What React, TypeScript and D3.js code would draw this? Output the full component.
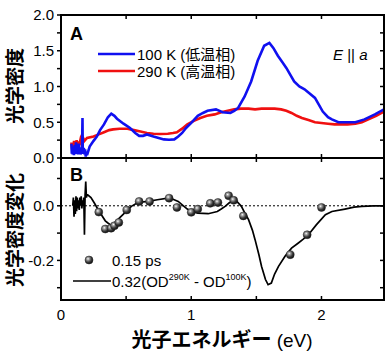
import React from "react";
import * as d3 from "d3";

// 100 K (低温相) の光学密度スペクトル [eV, OD]
const lowTempOD: [number, number][] = [
  [0.08, 0.2], [0.083, 0.06], [0.087, 0.16], [0.09, 0.05], [0.095, 0.13], [0.1, 0.04],
  [0.105, 0.18], [0.11, 0.07], [0.115, 0.22], [0.12, 0.06], [0.125, 0.12], [0.13, 0.05],
  [0.135, 0.2], [0.14, 0.09], [0.145, 0.15], [0.15, 0.05], [0.155, 0.1], [0.16, 0.07],
  [0.163, 0.3], [0.165, 0.56], [0.167, 0.1], [0.17, 0.06], [0.175, 0.14], [0.18, 0.05],
  [0.185, 0.12], [0.19, 0.02], [0.195, 0.09], [0.2, 0.04], [0.22, 0.16], [0.25, 0.24],
  [0.275, 0.3], [0.3, 0.39], [0.33, 0.47], [0.36, 0.57], [0.386, 0.62], [0.41, 0.59],
  [0.43, 0.55], [0.48, 0.48], [0.53, 0.42], [0.57, 0.35], [0.6, 0.31], [0.63, 0.31],
  [0.66, 0.33], [0.71, 0.3], [0.75, 0.28], [0.79, 0.26], [0.83, 0.255], [0.87, 0.26],
  [0.9, 0.3], [0.93, 0.35], [0.96, 0.42], [1.0, 0.49], [1.05, 0.59], [1.09, 0.63],
  [1.125, 0.66], [1.19, 0.68], [1.24, 0.64], [1.3, 0.63], [1.33, 0.66], [1.36, 0.7],
  [1.41, 0.86], [1.46, 1.07], [1.51, 1.36], [1.56, 1.57], [1.6, 1.61], [1.63, 1.54],
  [1.665, 1.43], [1.7, 1.34], [1.73, 1.26], [1.79, 1.07], [1.83, 1.0], [1.87, 0.96],
  [1.95, 0.84], [2.01, 0.65], [2.05, 0.57], [2.08, 0.54], [2.13, 0.5], [2.2, 0.5],
  [2.26, 0.5], [2.33, 0.54], [2.41, 0.61], [2.48, 0.68],
];

// 290 K (高温相)
const highTempOD: [number, number][] = [
  [0.08, 0.22], [0.085, 0.12], [0.09, 0.2], [0.095, 0.1], [0.1, 0.24], [0.105, 0.14],
  [0.11, 0.22], [0.115, 0.12], [0.12, 0.25], [0.125, 0.15], [0.13, 0.23], [0.14, 0.18],
  [0.15, 0.26], [0.16, 0.2], [0.17, 0.28], [0.18, 0.24], [0.2, 0.28], [0.25, 0.3],
  [0.29, 0.33], [0.33, 0.36], [0.37, 0.39], [0.4, 0.4], [0.45, 0.41], [0.51, 0.41],
  [0.56, 0.39], [0.61, 0.37], [0.66, 0.35], [0.71, 0.34], [0.76, 0.335], [0.82, 0.34],
  [0.86, 0.35], [0.89, 0.36], [0.93, 0.41], [0.97, 0.47], [1.02, 0.52], [1.07, 0.56],
  [1.12, 0.59], [1.18, 0.61], [1.23, 0.64], [1.28, 0.66], [1.33, 0.68], [1.38, 0.69],
  [1.44, 0.69], [1.49, 0.68], [1.54, 0.69], [1.59, 0.69], [1.64, 0.69], [1.69, 0.68],
  [1.73, 0.66], [1.77, 0.63], [1.81, 0.59], [1.85, 0.56], [1.9, 0.53], [1.95, 0.5],
  [2.0, 0.49], [2.05, 0.48], [2.1, 0.47], [2.15, 0.47], [2.2, 0.47], [2.26, 0.48],
  [2.31, 0.5], [2.36, 0.54], [2.42, 0.59], [2.48, 0.65],
];

// 0.32(OD290K - OD100K)
const scaledDiff: [number, number][] = [
  [0.09, 0.0], [0.095, 0.03], [0.1, -0.04], [0.105, 0.02], [0.11, -0.03], [0.115, 0.035],
  [0.12, -0.02], [0.125, 0.03], [0.13, -0.01], [0.135, 0.02], [0.14, -0.015], [0.145, 0.03],
  [0.15, 0.0], [0.155, 0.035], [0.16, -0.01], [0.165, 0.02], [0.17, 0.0], [0.175, 0.03],
  [0.18, -0.106], [0.185, 0.04], [0.19, 0.089], [0.195, 0.03], [0.2, 0.04], [0.205, 0.04],
  [0.23, 0.03], [0.256, 0.01], [0.28, -0.01], [0.31, -0.033], [0.34, -0.055], [0.36, -0.063],
  [0.38, -0.07], [0.4, -0.068], [0.436, -0.051], [0.487, -0.027], [0.54, -0.002], [0.59, 0.012],
  [0.667, 0.016], [0.74, 0.022], [0.82, 0.028], [0.86, 0.024], [0.9, 0.016], [0.94, 0.0],
  [0.97, -0.012], [1.01, -0.022], [1.05, -0.027], [1.13, -0.029], [1.2, -0.021], [1.23, -0.012],
  [1.26, -0.002], [1.29, 0.01], [1.31, 0.016], [1.35, 0.016], [1.385, -0.002], [1.41, -0.025],
  [1.44, -0.051], [1.47, -0.09], [1.49, -0.124], [1.52, -0.18], [1.54, -0.222], [1.57, -0.27],
  [1.59, -0.289], [1.615, -0.283], [1.64, -0.25], [1.67, -0.222], [1.72, -0.185], [1.77, -0.155],
  [1.82, -0.137], [1.86, -0.122], [1.9, -0.106], [1.96, -0.07], [2.03, -0.033], [2.08, -0.021],
  [2.18, -0.012], [2.25, -0.005], [2.31, -0.002], [2.4, 0], [2.48, 0],
];

// 0.15 ps のポンププローブ測定点
const pumpProbe015ps: [number, number][] = [
  [0.29, -0.023], [0.34, -0.085], [0.385, -0.082], [0.41, -0.073], [0.444, -0.061],
  [0.505, -0.015], [0.6, 0.016], [0.68, 0.016], [0.83, 0.028], [0.89, -0.006],
  [1.0, -0.024], [1.05, -0.012], [1.146, 0.009], [1.205, 0.012], [1.287, 0.037],
  [1.326, 0.02], [1.4, -0.037], [1.76, -0.179], [1.89, -0.106], [2.0, -0.006],
];

const xTicks = [0, 1, 2];
const topYTicks = [0, 0.5, 1, 1.5, 2];
const botYTicks = [0, -0.2];

const W = 390;
const H = 360;
const L = 61;
const R = 384;
const TOP = 15;
const MID = 158;
const BOT = 300;

const sans = "'Liberation Sans', Arial, sans-serif";
const cjk = "'Noto Sans CJK JP', sans-serif";
const mixed = "'Liberation Sans', 'Noto Sans CJK JP', sans-serif";

export default function App() {
  const x = d3.scaleLinear().domain([0, 2.48]).range([L, R]);
  const yTop = d3.scaleLinear().domain([0, 2]).range([MID, TOP]);
  const yBot = d3.scaleLinear().domain([-0.345, 0.175]).range([BOT, MID]);

  const lineTop = d3.line<[number, number]>().x((d) => x(d[0])).y((d) => yTop(d[1]));
  const lineBot = d3.line<[number, number]>().x((d) => x(d[0])).y((d) => yBot(d[1]));

  const xMinor = d3.range(0, 2.49, 0.5);
  const topMinor = d3.range(0, 2.001, 0.25);
  const botMinor = d3.range(-0.3, 0.11, 0.1);
  const tk = 4;

  return (
    <svg
      width={W}
      height={H}
      style={{ position: "absolute", left: 0, top: 0, background: "#fff" }}
    >
      <defs>
        <radialGradient id="ball" cx="38%" cy="35%" r="65%">
          <stop offset="0%" stopColor="#ffffff" />
          <stop offset="22%" stopColor="#a8a8a8" />
          <stop offset="65%" stopColor="#3a3a3a" />
          <stop offset="100%" stopColor="#111" />
        </radialGradient>
        <clipPath id="clipTop">
          <rect x={L} y={TOP} width={R - L} height={MID - TOP} />
        </clipPath>
        <clipPath id="clipBot">
          <rect x={L} y={MID} width={R - L} height={BOT - MID} />
        </clipPath>
      </defs>

      {/* パネル A */}
      <g clipPath="url(#clipTop)">
        <path d={lineTop(highTempOD) ?? ""} fill="none" stroke="#f01010" strokeWidth={2.6} />
        <path d={lineTop(lowTempOD) ?? ""} fill="none" stroke="#1010f0" strokeWidth={2.6} />
      </g>

      {/* パネル B */}
      <line x1={L} x2={R} y1={yBot(0)} y2={yBot(0)} stroke="#000" strokeWidth={1} strokeDasharray="2,2" />
      <g clipPath="url(#clipBot)">
        <path d={lineBot(scaledDiff) ?? ""} fill="none" stroke="#000" strokeWidth={1.7} />
      </g>
      {pumpProbe015ps.map((d, i) => (
        <circle key={i} cx={x(d[0])} cy={yBot(d[1])} r={4} fill="url(#ball)" stroke="#222" strokeWidth={0.5} />
      ))}

      {/* 枠と目盛り */}
      <g stroke="#000" strokeWidth={1.5} fill="none">
        <rect x={L} y={TOP} width={R - L} height={BOT - TOP} strokeWidth={2} />
        <line x1={L} x2={R} y1={MID} y2={MID} strokeWidth={2} />
        {xMinor.map((v) => (
          <g key={"x" + v}>
            <line x1={x(v)} x2={x(v)} y1={TOP} y2={TOP + tk} />
            <line x1={x(v)} x2={x(v)} y1={MID} y2={MID - tk} />
            <line x1={x(v)} x2={x(v)} y1={MID} y2={MID + tk} />
            <line x1={x(v)} x2={x(v)} y1={BOT} y2={BOT - tk} />
          </g>
        ))}
        {topMinor.map((v) => (
          <g key={"t" + v}>
            <line x1={L - tk} x2={L} y1={yTop(v)} y2={yTop(v)} />
            <line x1={R - tk} x2={R} y1={yTop(v)} y2={yTop(v)} />
          </g>
        ))}
        {botMinor.map((v) => (
          <g key={"b" + v}>
            <line x1={L - tk} x2={L} y1={yBot(v)} y2={yBot(v)} />
            <line x1={R - tk} x2={R} y1={yBot(v)} y2={yBot(v)} />
          </g>
        ))}
      </g>

      {/* 目盛りラベル */}
      <g fontFamily={sans} fontSize={15} fill="#000">
        {topYTicks.map((v) => (
          <text key={v} x={L - 7} y={yTop(v)} dy="0.35em" textAnchor="end">
            {d3.format(".1f")(v)}
          </text>
        ))}
        {botYTicks.map((v) => (
          <text key={v} x={L - 7} y={yBot(v)} dy="0.35em" textAnchor="end">
            {d3.format(".1f")(v).replace("−", "-")}
          </text>
        ))}
        {xTicks.map((v) => (
          <text key={v} x={x(v)} y={BOT + 20} textAnchor="middle">
            {v}
          </text>
        ))}
      </g>

      {/* 軸ラベル */}
      <text
        transform={`translate(22,86) rotate(-90)`}
        textAnchor="middle"
        fontFamily={cjk}
        fontWeight="bold"
        fontSize={19}
      >
        光学密度
      </text>
      <text
        transform={`translate(22,230) rotate(-90)`}
        textAnchor="middle"
        fontFamily={cjk}
        fontWeight="bold"
        fontSize={19}
      >
        光学密度変化
      </text>
      <text x={222} y={347} textAnchor="middle" fontFamily={cjk} fontWeight="bold" fontSize={20}>
        光子エネルギー
        <tspan fontFamily={sans} fontWeight="normal" fontSize={19}> (eV)</tspan>
      </text>

      {/* パネル記号 */}
      <text x={70} y={40} fontFamily={sans} fontWeight="bold" fontSize={18}>A</text>
      <text x={70} y={181} fontFamily={sans} fontWeight="bold" fontSize={18}>B</text>

      {/* 凡例 A */}
      <line x1={98} x2={135} y1={54} y2={54} stroke="#1010f0" strokeWidth={2.6} />
      <line x1={98} x2={135} y1={71} y2={71} stroke="#f01010" strokeWidth={2.6} />
      <text x={137} y={59.5} fontFamily={mixed} fontSize={15}>100 K (低温相)</text>
      <text x={137} y={76.5} fontFamily={mixed} fontSize={15}>290 K (高温相)</text>
      <text x={333} y={59.5} fontFamily={sans} fontSize={15}>
        <tspan fontStyle="italic">E</tspan> || <tspan fontStyle="italic">a</tspan>
      </text>

      {/* 凡例 B */}
      <circle cx={89} cy={260} r={4} fill="url(#ball)" stroke="#222" strokeWidth={0.5} />
      <text x={112} y={265.5} fontFamily={sans} fontSize={15}>0.15 ps</text>
      <line x1={73} x2={111} y1={281} y2={281} stroke="#000" strokeWidth={1.7} />
      <text x={112} y={286.5} fontFamily={sans} fontSize={15}>
        0.32(OD
        <tspan fontSize={9} dy={-7}>290K</tspan>
        <tspan dy={7}> - OD</tspan>
        <tspan fontSize={9} dy={-7}>100K</tspan>
        <tspan dy={7}>)</tspan>
      </text>
    </svg>
  );
}
